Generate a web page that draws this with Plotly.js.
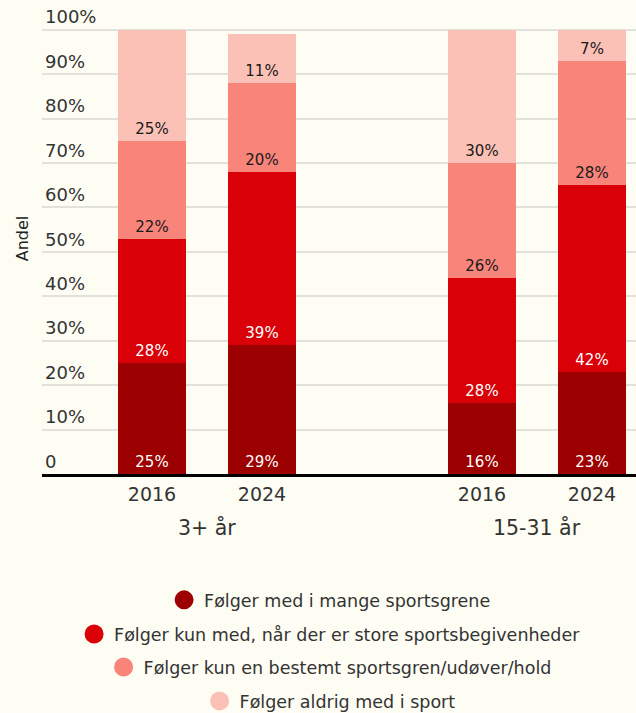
<!DOCTYPE html>
<html>
<head>
<meta charset="utf-8">
<script src="https://cdn.plot.ly/plotly-3.0.1.min.js"></script>
<style>html,body{margin:0;padding:0;background:#fdfdf4;}</style>
</head>
<body>
<div id="chart" style="width:636px;height:713px;"></div>
<script>
const groups = ["3+ år", "15-31 år"];
const years = ["2016", "2024"];
const seriesNames = [
  "Følger med i mange sportsgrene",
  "Følger kun med, når der er store sportsbegivenheder",
  "Følger kun en bestemt sportsgren/udøver/hold",
  "Følger aldrig med i sport"
];
// values ordered: [3+ 2016, 3+ 2024, 15-31 2016, 15-31 2024]
const mange = [25, 29, 16, 23];
const store = [28, 39, 28, 42];
const bestemt = [22, 20, 26, 28];
const aldrig = [25, 11, 30, 7];
const yTicks = [0, 10, 20, 30, 40, 50, 60, 70, 80, 90, 100];
const yTickText = ["0", "10%", "20%", "30%", "40%", "50%", "60%", "70%", "80%", "90%", "100%"];

const colors = ["#9c0000", "#d90007", "#f8847a", "#fbc0b6"];
const textColors = ["#ffffff", "#ffffff", "#1a1a1a", "#1a1a1a"];
const seriesValues = [mange, store, bestemt, aldrig];

// positions: a gap slot between groups
const xPos = [];
const xText = [];
groups.forEach((g, gi) => years.forEach((y, yi) => { xPos.push(gi * 3 + yi); xText.push(y); }));

const font = "DejaVu Sans, Noto Sans, sans-serif";
const traces = [];
seriesValues.forEach((vals, si) => {
  traces.push({
    type: "bar",
    x: xPos,
    y: vals,
    width: 0.62,
    marker: { color: colors[si], line: { width: 0 } },
    text: vals.map(v => v + "%"),
    textposition: "inside",
    insidetextanchor: "start",
    constraintext: "none",
    textangle: 0,
    textfont: { color: textColors[si], size: 15, family: font },
    hoverinfo: "skip",
    showlegend: false
  });
});
// legend entries with circular markers, one legend per line (centered)
const legendIds = ["legend", "legend2", "legend3", "legend4"];
seriesNames.forEach((name, si) => {
  traces.push({
    type: "scatter",
    mode: "markers",
    x: [null],
    y: [null],
    name: name,
    marker: { color: colors[si], size: 20, symbol: "circle", line: { color: colors[si], width: 3 } },
    showlegend: true,
    legend: legendIds[si],
    hoverinfo: "skip"
  });
});

const legendY = [-0.2675, -0.340, -0.410, -0.482];
const layout = {
  width: 636,
  height: 713,
  paper_bgcolor: "#fdfdf4",
  plot_bgcolor: "#fdfdf4",
  barmode: "stack",
  margin: { l: 42, r: 0, t: 3, b: 239, autoexpand: false },
  font: { family: font, color: "#333333", size: 17 },
  xaxis: {
    range: [-1, 4.4],
    tickvals: xPos,
    ticktext: xText,
    showgrid: false,
    zeroline: false,
    showline: true,
    linecolor: "#000000",
    linewidth: 3,
    ticks: "outside",
    ticklen: 1,
    tickcolor: "rgba(0,0,0,0)",
    tickfont: { size: 19, color: "#333333" },
    automargin: false,
    fixedrange: true
  },
  yaxis: {
    range: [0, 106],
    tickvals: yTicks,
    ticktext: yTickText,
    ticklabelposition: "inside top",
    tickfont: { size: 18, color: "#333333" },
    showgrid: true,
    gridcolor: "#e2e2dc",
    gridwidth: 2,
    zeroline: false,
    showline: false,
    automargin: false,
    title: { text: "Andel", font: { size: 16, color: "#222222" }, standoff: 12 },
    fixedrange: true
  },
  annotations: groups.map((g, gi) => ({
    text: g,
    x: gi * 3 + 0.5,
    xref: "x",
    y: -0.1146,
    yref: "paper",
    xanchor: "center",
    yanchor: "middle",
    showarrow: false,
    font: { size: 20.5, color: "#333333" }
  })),
  hovermode: false
};
legendIds.forEach((id, i) => {
  layout[id] = {
    x: 0.485,
    xanchor: "center",
    y: legendY[i],
    yanchor: "middle",
    orientation: "h",
    bgcolor: "rgba(0,0,0,0)",
    font: { size: 17.5, color: "#333333" },
    itemsizing: "trace"
  };
});

Plotly.newPlot("chart", traces, layout, { displayModeBar: false, staticPlot: true });
</script>
</body>
</html>
